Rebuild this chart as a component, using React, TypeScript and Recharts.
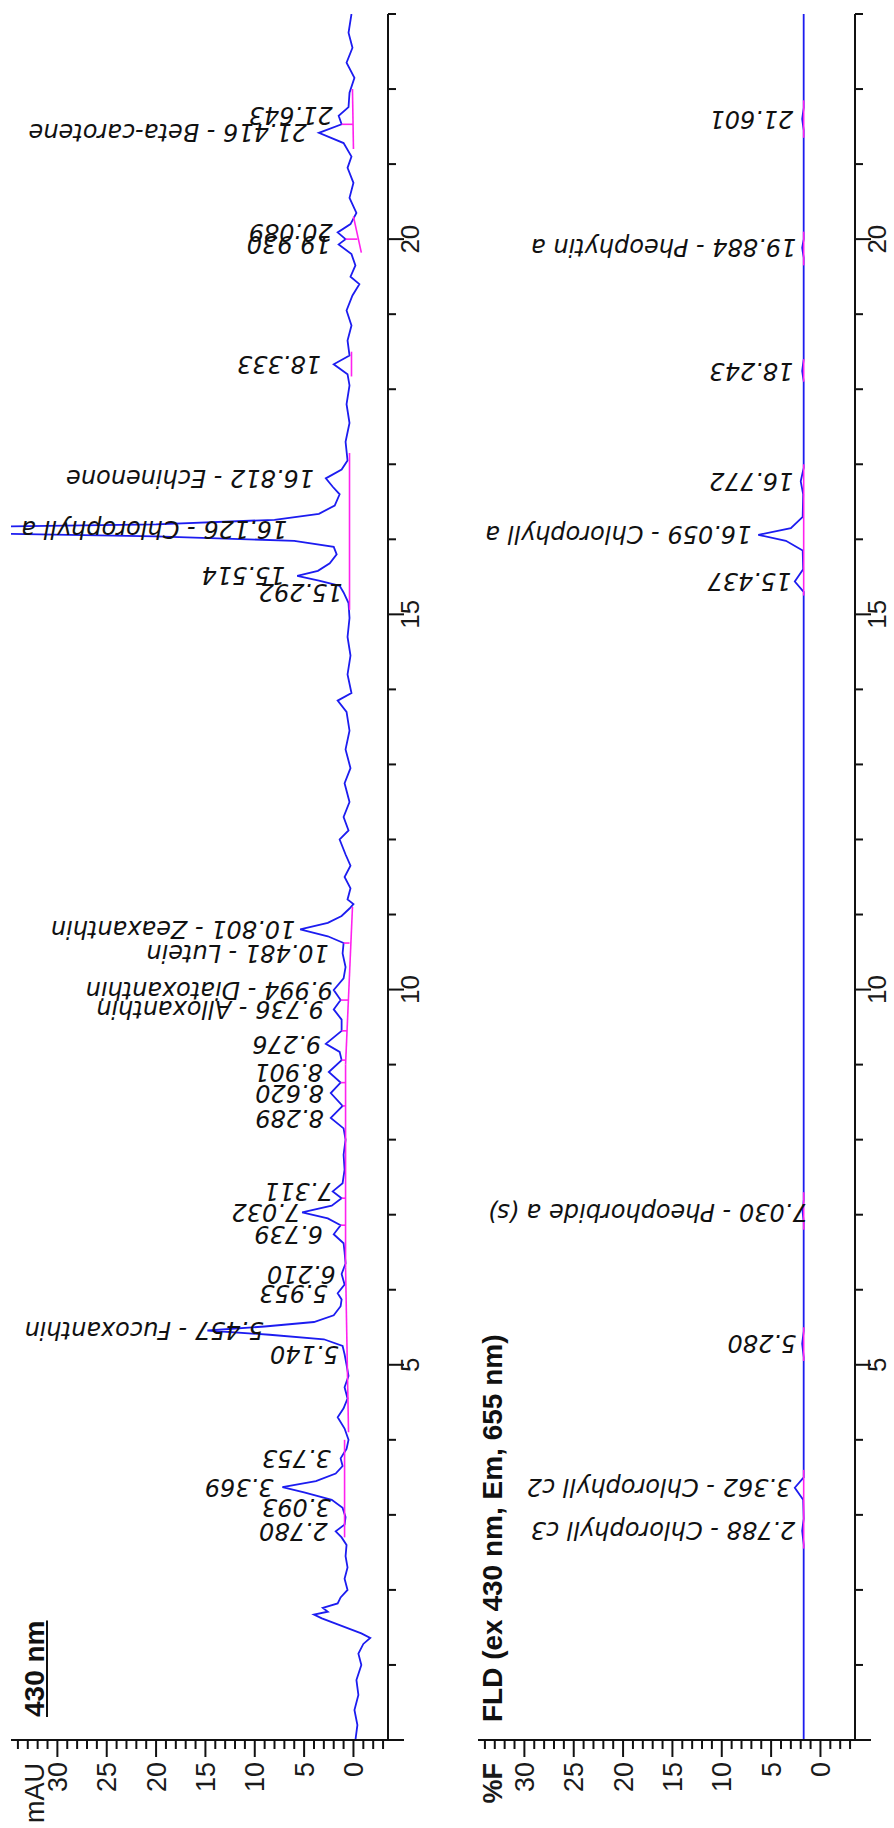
import React from "react";
import {
  ComposedChart,
  Line,
  XAxis,
  YAxis,
  ReferenceLine,
  ReferenceDot,
} from "recharts";

// 430 nm absorbance trace: [retention time (min), mAU]
const trace430Raw: [number, number][] = [
  [0.0, -0.2], [0.2, -0.4], [0.4, -0.1], [0.6, -0.5], [0.8, -0.3], [1.0, -0.8],
  [1.15, -0.5], [1.28, -1.0], [1.36, -1.7], [1.42, -0.8], [1.48, 0.4], [1.55, 1.8],
  [1.62, 3.2], [1.67, 4.0], [1.71, 2.6], [1.76, 3.1], [1.82, 1.6], [1.9, 1.3],
  [2.0, 0.6], [2.15, 0.9], [2.3, 0.6], [2.45, 0.8], [2.6, 0.7], [2.7, 1.2],
  [2.78, 1.8], [2.87, 0.9], [2.97, 0.8], [3.093, 1.1], [3.2, 2.2], [3.3, 5.0],
  [3.369, 7.2], [3.45, 3.8], [3.55, 1.8], [3.65, 1.1], [3.753, 1.3], [3.88, 0.7],
  [4.0, 0.5], [4.15, 0.9], [4.3, 1.6], [4.42, 1.0], [4.55, 0.6], [4.7, 0.9],
  [4.85, 0.5], [5.0, 0.7], [5.14, 0.9], [5.25, 1.1], [5.34, 3.0], [5.4, 8.5],
  [5.457, 14.8], [5.51, 9.0], [5.57, 4.0], [5.66, 2.0], [5.78, 1.3], [5.87, 1.2],
  [5.953, 1.6], [6.07, 0.9], [6.21, 1.2], [6.35, 0.8], [6.5, 0.9], [6.62, 1.0],
  [6.739, 2.0], [6.86, 1.3], [6.95, 2.6], [7.032, 5.2], [7.12, 2.2], [7.22, 1.2],
  [7.311, 2.1], [7.42, 1.1], [7.6, 0.9], [7.8, 1.0], [8.0, 0.8], [8.15, 1.0],
  [8.289, 2.3], [8.45, 1.1], [8.62, 2.3], [8.76, 1.3], [8.901, 2.5], [9.06, 1.2],
  [9.17, 1.4], [9.276, 2.8], [9.45, 1.2], [9.6, 1.2], [9.736, 2.0], [9.86, 1.3],
  [9.994, 2.0], [10.15, 1.0], [10.3, 0.8], [10.481, 1.1], [10.62, 1.0], [10.71, 2.6],
  [10.801, 5.4], [10.89, 2.6], [10.98, 1.2], [11.08, 0.4], [11.14, 0.0], [11.2, 0.6],
  [11.35, 0.3], [11.5, 0.9], [11.65, 0.3], [11.8, 0.8], [12.0, 1.4], [12.12, 0.5],
  [12.3, 1.0], [12.5, 0.4], [12.75, 0.9], [12.95, 0.3], [13.2, 0.8], [13.45, 0.4],
  [13.7, 0.7], [13.85, 1.6], [13.95, 0.2], [14.2, 0.6], [14.45, 0.3], [14.7, 0.6],
  [14.95, 0.4], [15.15, 0.5], [15.292, 1.0], [15.38, 1.4], [15.45, 3.5], [15.514, 5.7],
  [15.58, 3.6], [15.68, 2.4], [15.8, 1.7], [15.9, 2.0], [15.98, 6.0], [16.04, 20.0],
  [16.126, 60.0], [16.2, 20.0], [16.26, 8.0], [16.34, 3.5], [16.45, 1.9], [16.6, 1.4],
  [16.7, 2.1], [16.812, 2.8], [16.93, 1.2], [17.05, 0.6], [17.3, 0.8], [17.55, 0.4],
  [17.8, 0.7], [18.05, 0.4], [18.2, 0.6], [18.333, 2.0], [18.45, 0.4], [18.65, 0.6],
  [18.85, 0.2], [19.05, 0.7], [19.25, 0.1], [19.4, -0.6], [19.5, 0.3], [19.65, -0.2],
  [19.8, 0.2], [19.93, 1.5], [20.0, 0.8], [20.089, 1.6], [20.2, 0.3], [20.35, -0.3],
  [20.55, 0.4], [20.75, 0.0], [20.95, 0.6], [21.1, 0.2], [21.28, 1.0], [21.416, 3.5],
  [21.53, 1.2], [21.643, 1.5], [21.76, 0.5], [21.95, 0.4], [22.15, -0.1], [22.35, 0.7],
  [22.55, 0.1], [22.75, 0.5], [23.0, 0.2],
];

// fluorescence trace: [retention time (min), %F]
const traceFldRaw: [number, number][] = [
  [0.0, 1.7], [2.6, 1.7], [2.788, 1.85], [2.95, 1.7], [3.2, 1.75], [3.362, 2.6],
  [3.5, 1.7], [5.1, 1.7], [5.28, 1.85], [5.45, 1.7], [6.9, 1.7], [7.03, 1.8],
  [7.2, 1.7], [15.3, 1.7], [15.437, 2.6], [15.6, 1.75], [15.85, 1.8], [15.98, 3.5],
  [16.059, 6.3], [16.15, 3.0], [16.3, 1.8], [16.6, 1.75], [16.772, 2.0], [16.95, 1.7],
  [18.1, 1.7], [18.243, 1.85], [18.4, 1.7], [19.75, 1.7], [19.884, 1.85], [20.0, 1.7],
  [21.45, 1.7], [21.601, 1.85], [21.75, 1.7], [23.0, 1.7],
];

// peak labels: [retention time, signal where the label starts, text]
const labels430: [number, number, string][] = [
  [21.643, 2.1, "21.643"],
  [21.416, 4.7, "21.416 - Beta-carotene"],
  [20.089, 2.1, "20.089"],
  [19.93, 2.3, "19.930"],
  [18.333, 3.3, "18.333"],
  [16.812, 4.0, "16.812 - Echinenone"],
  [16.126, 6.7, "16.126 - Chlorophyll a"],
  [15.514, 6.9, "15.514"],
  [15.292, 1.1, "15.292"],
  [10.801, 5.9, "10.801 - Zeaxanthin"],
  [10.481, 2.5, "10.481 - Lutein"],
  [9.994, 2.1, "9.994 - Diatoxanthin"],
  [9.736, 3.0, "9.736 - Alloxanthin"],
  [9.276, 3.3, "9.276"],
  [8.901, 3.1, "8.901"],
  [8.62, 3.0, "8.620"],
  [8.289, 3.0, "8.289"],
  [7.311, 2.1, "7.311"],
  [7.032, 5.4, "7.032"],
  [6.739, 3.1, "6.739"],
  [6.21, 1.8, "6.210"],
  [5.953, 2.6, "5.953"],
  [5.457, 9.1, "5.457 - Fucoxanthin"],
  [5.14, 1.5, "5.140"],
  [3.753, 2.3, "3.753"],
  [3.369, 8.1, "3.369"],
  [3.093, 2.3, "3.093"],
  [2.78, 2.6, "2.780"],
];

const labelsFld: [number, number, string][] = [
  [21.601, 2.75, "21.601"],
  [19.884, 2.45, "19.884 - Pheophytin a"],
  [18.243, 2.75, "18.243"],
  [16.772, 2.75, "16.772"],
  [16.059, 7.0, "16.059 - Chlorophyll a"],
  [15.437, 2.95, "15.437"],
  [7.03, 1.3, "7.030 - Pheophorbide a (s)"],
  [5.28, 2.45, "5.280"],
  [3.362, 2.95, "3.362 - Chlorophyll c2"],
  [2.788, 2.55, "2.788 - Chlorophyll c3"],
];

// integration baselines: [t1, v1, t2, v2]
const baselines430: [number, number, number, number][] = [
  [2.7, 0.9, 4.0, 0.9],
  [4.1, 0.5, 6.3, 0.8],
  [6.3, 0.8, 9.0, 0.8],
  [9.0, 0.8, 11.1, 0.1],
  [15.06, 0.4, 17.15, 0.4],
  [18.17, 0.2, 18.5, 0.2],
  [19.82, -0.8, 20.3, 0.0],
  [21.2, 0.0, 22.0, 0.1],
];

const baselinesFld: [number, number, number, number][] = [
  [2.55, 1.7, 3.6, 1.7],
  [5.05, 1.7, 5.5, 1.7],
  [6.8, 1.7, 7.3, 1.7],
  [15.25, 1.7, 17.0, 1.7],
  [18.1, 1.7, 18.4, 1.7],
  [19.65, 1.7, 20.1, 1.7],
  [21.35, 1.7, 21.85, 1.7],
];

// peak separation drop lines: [time, baseline, signal]
const drops430: [number, number, number][] = [
  [21.53, 0.05, 1.2],
  [20.0, -0.4, 0.8],
  [10.62, 0.4, 1.0],
  [9.86, 0.5, 1.3],
  [9.45, 0.65, 1.2],
  [9.06, 0.8, 1.2],
  [8.76, 0.8, 1.3],
  [8.45, 0.8, 1.1],
  [7.22, 0.8, 1.2],
  [6.86, 0.8, 1.3],
];
const dropsFld: [number, number, number][] = [];

const timeTicks = [0, 1, 2, 3, 4, 5, 6, 7, 8, 9, 10, 11, 12, 13, 14, 15, 16, 17, 18, 19, 20, 21, 22, 23];
const signalTicks = [
  -3, -2, -1, 0, 1, 2, 3, 4, 5, 6, 7, 8, 9, 10, 11, 12, 13, 14, 15, 16, 17, 18, 19,
  20, 21, 22, 23, 24, 25, 26, 27, 28, 29, 30, 31, 32, 33, 34,
];

const AXIS_FONT = "'Liberation Sans', Arial, sans-serif";
const LABEL_FONT = "'DejaVu Sans', Verdana, sans-serif";
const TRACE = "#1c1cf0";
const PINK = "#ff22ee";

const TimeTick = (props: any) => {
  const { x, y, payload } = props;
  const major = payload.value % 5 === 0;
  return (
    <g>
      <line x1={x} x2={x} y1={y} y2={y + (major ? 16 : 8)} stroke="#111" strokeWidth={2} />
      {major && payload.value > 0 && (
        <text x={x} y={y + 31} textAnchor="middle" fontSize={26} fontFamily={AXIS_FONT} fill="#1a1a1a">
          {payload.value}
        </text>
      )}
    </g>
  );
};

const SignalTick = (props: any) => {
  const { x, y, payload } = props;
  const major = payload.value % 5 === 0;
  return (
    <g>
      <line x1={x} x2={x - (major ? 17 : 9)} y1={y} y2={y} stroke="#111" strokeWidth={2} />
      {major && payload.value >= 0 && (
        <text x={x - 22} y={y} dy="0.35em" textAnchor="end" fontSize={27} fontFamily={AXIS_FONT} fill="#1a1a1a">
          {payload.value}
        </text>
      )}
    </g>
  );
};

const peakLabel = (text: string) => (p: any) => (
  <text
    x={p.cx}
    y={p.cy}
    dy="0.35em"
    transform={`rotate(-90 ${p.cx} ${p.cy})`}
    fontSize={24}
    fontStyle="italic"
    fontFamily={LABEL_FONT}
    fill="#111"
  >
    {text}
  </text>
);

type PanelProps = {
  trace: [number, number][];
  labels: [number, number, string][];
  baselines: [number, number, number, number][];
  drops: [number, number, number][];
  top: number;
};

const Panel = ({ trace, labels, baselines, drops, top }: PanelProps) => {
  const data = trace.map(([t, v]) => ({ t, v }));
  return (
    <ComposedChart width={1828} height={447} margin={{ top, right: 14, bottom: 0, left: 0 }}>
      <XAxis
        type="number"
        dataKey="t"
        domain={[0, 23]}
        ticks={timeTicks}
        interval={0}
        tick={TimeTick}
        tickLine={false}
        tickSize={0}
        tickMargin={0}
        height={447 - top - 377}
        axisLine={{ stroke: "#111", strokeWidth: 2 }}
        allowDataOverflow
      />
      <YAxis
        type="number"
        domain={[-3.5, 34.7]}
        ticks={signalTicks}
        interval={0}
        tick={SignalTick}
        tickLine={false}
        tickSize={0}
        tickMargin={0}
        width={88}
        axisLine={{ stroke: "#111", strokeWidth: 2 }}
        allowDataOverflow
      />
      <Line
        data={data}
        dataKey="v"
        type="linear"
        stroke={TRACE}
        strokeWidth={1.8}
        dot={false}
        isAnimationActive={false}
      />
      {baselines.map(([t1, v1, t2, v2], i) => (
        <ReferenceLine
          key={`b${i}`}
          segment={[{ x: t1, y: v1 }, { x: t2, y: v2 }]}
          stroke={PINK}
          strokeWidth={1.6}
        />
      ))}
      {drops.map(([t, lo, hi], i) => (
        <ReferenceLine
          key={`d${i}`}
          segment={[{ x: t, y: lo }, { x: t, y: hi }]}
          stroke={PINK}
          strokeWidth={1.6}
        />
      ))}
      {labels.map(([t, at, text], i) => (
        <ReferenceDot key={`l${i}`} x={t} y={at} r={0} shape={peakLabel(text)} ifOverflow="visible" />
      ))}
    </ComposedChart>
  );
};

const titleStyle: React.CSSProperties = {
  position: "absolute",
  fontFamily: AXIS_FONT,
  fontWeight: "bold",
  fontSize: 28,
  lineHeight: "28px",
  color: "#111",
  whiteSpace: "nowrap",
};

const unitStyle: React.CSSProperties = {
  position: "absolute",
  left: 0,
  width: 65,
  textAlign: "right",
  fontFamily: AXIS_FONT,
  fontSize: 27,
  lineHeight: "27px",
  color: "#1a1a1a",
};

export default function App() {
  return (
    <div style={{ position: "absolute", left: 0, top: 0, width: 894, height: 1828, overflow: "hidden", background: "#fff" }}>
      <div
        style={{
          position: "absolute",
          left: 0,
          top: 0,
          width: 1828,
          height: 894,
          transformOrigin: "0 0",
          transform: "translateY(1828px) rotate(-90deg)",
        }}
      >
        <div style={{ position: "absolute", left: 0, top: 0 }}>
          <Panel trace={trace430Raw} labels={labels430} baselines={baselines430} drops={drops430} top={11} />
        </div>
        <div style={{ position: "absolute", left: 0, top: 447 }}>
          <Panel trace={traceFldRaw} labels={labelsFld} baselines={baselinesFld} drops={dropsFld} top={31} />
        </div>
        <div style={{ ...titleStyle, left: 111, top: 21, textDecoration: "underline" }}>430 nm</div>
        <div style={{ ...titleStyle, left: 106, top: 479 }}>FLD (ex 430 nm, Em, 655 nm)</div>
        <div style={{ ...unitStyle, top: 22 }}>mAU</div>
        <div style={{ ...unitStyle, top: 480, fontWeight: "bold" }}>%F</div>
      </div>
    </div>
  );
}
